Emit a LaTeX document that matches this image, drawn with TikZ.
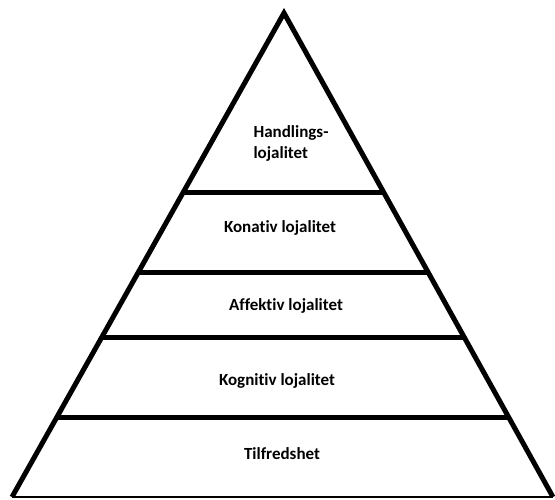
\documentclass[tikz,border=0pt]{standalone}
\usepackage{fontspec}
\setmainfont{Carlito}[Ligatures=NoCommon]
\usetikzlibrary{calc}
\begin{document}
\begin{tikzpicture}[x=1pt,y=-1pt,
  side/.style={line width=5pt,line join=miter},
  level/.style={line width=5pt},
  lbl/.style={font=\fontsize{17}{21}\selectfont\bfseries,inner sep=0pt}]
\useasboundingbox (0,0) rectangle (555,499);
\coordinate (apex) at (284,13);
\coordinate (bl) at (12,497);
\coordinate (br) at (553,497);
\draw[side] (bl) -- (apex) -- (br);
\draw[line width=2pt] (bl) -- (br);
\foreach \t/\n in {0.370/a,0.537/b,0.671/c,0.835/d}{
  \coordinate (L\n) at ($(apex)!\t!(bl)$);
  \coordinate (R\n) at ($(apex)!\t!(br)$);
  \draw[level] (L\n) -- (R\n);
}
\node[lbl,align=left] (n1) at (291,143) {Handlings-\\lojalitet};
\node[lbl] (n2) at (280,228) {Konativ lojalitet};
\node[lbl] (n3) at (286,306) {Affektiv lojalitet};
\node[lbl] (n4) at (277,381) {Kognitiv lojalitet};
\node[lbl] (n5) at (282,454) {Tilfredshet};
\end{tikzpicture}
\end{document}
